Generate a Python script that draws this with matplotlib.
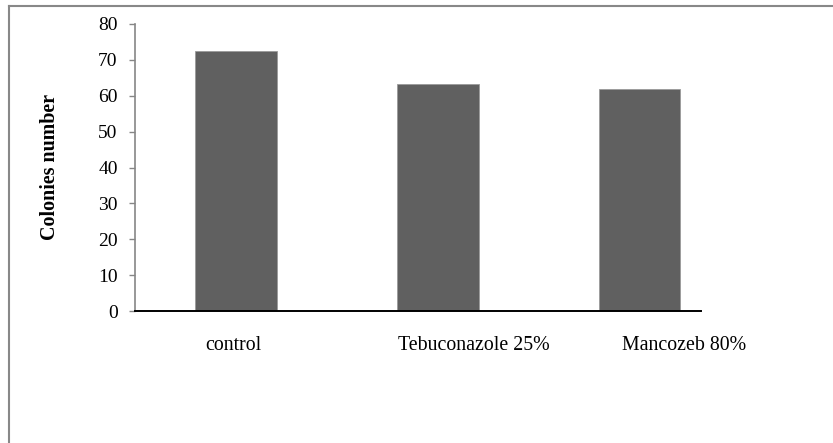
import matplotlib
matplotlib.use("Agg")
import matplotlib.pyplot as plt
from matplotlib.lines import Line2D

treatments = ["control", "Tebuconazole 25%", "Mancozeb 80%"]
colonies = [72.4, 63.2, 61.9]
y_ticks = [0, 10, 20, 30, 40, 50, 60, 70, 80]
label_shift_pt = [-2, 26, 32]  # category labels sit right of their bars

plt.rcParams["font.family"] = ["Liberation Serif", "DejaVu Serif"]

fig = plt.figure(figsize=(8.33, 4.43), dpi=100)
ax = fig.add_axes([135 / 833, 1 - 311 / 443, 566 / 833, 287 / 443])

x = list(range(len(treatments)))
ax.bar(x, colonies, width=0.405, color="#606060", edgecolor="#9a9a9a", linewidth=0.6, zorder=2)

ax.set_xlim(-0.501, 2.305)
ax.set_ylim(0, 80)
ax.set_yticks(y_ticks)
ax.set_xticks([])
for xi, name, dx in zip(x, treatments, label_shift_pt):
    ax.annotate(name, xy=(xi, 0), xycoords=("data", "axes fraction"),
                xytext=(dx, -25), textcoords="offset points",
                ha="center", va="center", fontsize=14.3)
ax.tick_params(axis="y", length=4.5, width=1, color="#868686", labelsize=14, pad=8)

for side in ["top", "right"]:
    ax.spines[side].set_visible(False)
ax.spines["left"].set_color("#868686")
ax.spines["left"].set_linewidth(1.2)
ax.spines["bottom"].set_color("black")
ax.spines["bottom"].set_linewidth(1.4)
ax.spines["bottom"].set_zorder(3)

ax.set_ylabel("Colonies number", fontsize=14.4, fontweight="bold")
ax.yaxis.set_label_coords(-75.5 / 566, 0.5)

# chart-area frame: only top and left edges are visible in the crop
fig.add_artist(Line2D([8.5 / 833, 8.5 / 833], [0, 1 - 6 / 443], color="#888888", lw=1.5))
fig.add_artist(Line2D([8.5 / 833, 1], [1 - 6 / 443, 1 - 6 / 443], color="#888888", lw=1.5))

fig.savefig("out.png", dpi=100)
